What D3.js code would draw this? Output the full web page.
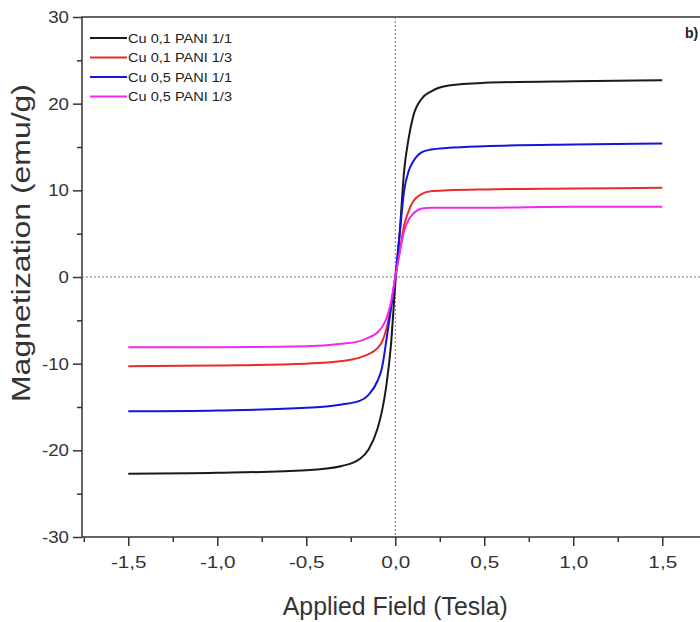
<!DOCTYPE html>
<html>
<head>
<meta charset="utf-8">
<script src="https://cdn.jsdelivr.net/npm/d3@7"></script>
<style>
  body { margin: 0; background: #fff; }
  svg { display: block; font-family: Arial, "Liberation Sans", sans-serif; }
</style>
</head>
<body>
<svg id="chart" width="700" height="622"></svg>
<script>
const field = [-1.5, -1.0, -0.5, -0.3, -0.2, -0.15, -0.1, -0.075, -0.05, -0.025, 0,
  0.025, 0.05, 0.075, 0.1, 0.15, 0.2, 0.3, 0.5, 1.0, 1.5];

const cu01Pani11 = [-22.7, -22.6, -22.3, -21.8, -21.0, -19.9, -17.5, -15.5, -12.5, -8.0, -0.8,
  5.2, 12.3, 16.0, 18.5, 20.6, 21.4, 22.1, 22.4, 22.6, 22.7];
const cu01Pani13 = [-10.3, -10.2, -10.0, -9.7, -9.3, -8.9, -8.2, -7.5, -6.0, -3.5, 0,
  3.0, 6.0, 7.6, 8.7, 9.6, 9.9, 10.0, 10.1, 10.2, 10.3];
const cu05Pani11 = [-15.5, -15.4, -15.1, -14.7, -14.3, -13.6, -12.0, -10.5, -7.3, -3.8, 0,
  5.0, 10.0, 12.2, 13.3, 14.4, 14.7, 14.9, 15.1, 15.3, 15.4];
const cu05Pani13 = [-8.1, -8.1, -8.0, -7.7, -7.4, -7.0, -6.4, -5.8, -4.8, -3.0, 0,
  2.8, 5.3, 6.6, 7.3, 7.9, 8.0, 8.0, 8.0, 8.1, 8.1];

const seriesNames = ["Cu 0,1 PANI 1/1", "Cu 0,1 PANI 1/3", "Cu 0,5 PANI 1/1", "Cu 0,5 PANI 1/3"];
const seriesValues = [cu01Pani11, cu01Pani13, cu05Pani11, cu05Pani13];
const seriesColors = ["#1a1a1a", "#e82c2c", "#1414e0", "#f028f0"];

const xTicks = [-1.5, -1.0, -0.5, 0, 0.5, 1.0, 1.5];
const yTicks = [-30, -20, -10, 0, 10, 20, 30];

const svg = d3.select("#chart");
const plotLeft = 82, plotTop = 17, plotBottom = 537;

const x = d3.scaleLinear().domain([-1.76, 1.76]).range([plotLeft, plotLeft + 3.52 * 178]);
const y = d3.scaleLinear().domain([-30, 30]).range([plotBottom, plotTop]);

const fmt = (d) => d3.format(".1f")(d).replace("−", "-").replace(".", ",");

// frame
svg.append("rect")
  .attr("x", x.range()[0]).attr("y", plotTop)
  .attr("width", x.range()[1] - x.range()[0]).attr("height", plotBottom - plotTop)
  .attr("fill", "none").attr("stroke", "#333").attr("stroke-width", 1.5);

// zero guides
svg.append("line")
  .attr("x1", x(0)).attr("x2", x(0)).attr("y1", plotTop).attr("y2", plotBottom)
  .attr("stroke", "#777").attr("stroke-dasharray", "2,2");
svg.append("line")
  .attr("x1", x.range()[0]).attr("x2", x.range()[1]).attr("y1", y(0)).attr("y2", y(0))
  .attr("stroke", "#777").attr("stroke-dasharray", "2,2");

// axes
const xAxis = d3.axisBottom(x).tickValues(xTicks).tickFormat(fmt).tickSize(9).tickPadding(10);
const xMinor = d3.axisBottom(x).tickValues(d3.range(-1.75, 1.76, 0.5)).tickFormat("").tickSize(5);
const yAxis = d3.axisLeft(y).tickValues(yTicks).tickFormat(d3.format("d")).tickSize(9).tickPadding(4);
const yMinor = d3.axisLeft(y).tickValues(d3.range(-25, 26, 10)).tickFormat("").tickSize(5);

const gx = svg.append("g").attr("transform", `translate(0,${plotBottom})`).call(xAxis);
const gxm = svg.append("g").attr("transform", `translate(0,${plotBottom})`).call(xMinor);
const gy = svg.append("g").attr("transform", `translate(${plotLeft},0)`).call(yAxis);
const gym = svg.append("g").attr("transform", `translate(${plotLeft},0)`).call(yMinor);

[gx, gxm, gy, gym].forEach((g) => {
  g.select(".domain").remove();
  g.selectAll("line").attr("stroke", "#333").attr("stroke-width", 1.5);
  g.selectAll("text").attr("font-size", 17).attr("fill", "#333")
    .text(function () { return d3.select(this).text().replace("−", "-"); });
});
// the original labels are drawn a little wider than plain Arial
gx.selectAll("text").attr("transform", "scale(1.22,1)");
gy.selectAll("text").attr("transform", "translate(-13,0) scale(1.1,1)")
  .attr("x", null).attr("text-anchor", "end");

// curves
const line = d3.line()
  .x((d, i) => x(field[i]))
  .y((d) => y(d))
  .curve(d3.curveMonotoneX);

seriesValues.forEach((vals, i) => {
  svg.append("path")
    .datum(vals)
    .attr("d", line)
    .attr("fill", "none")
    .attr("stroke", seriesColors[i])
    .attr("stroke-width", 2);
});

// legend
const legend = svg.append("g").attr("transform", "translate(90,38)");
seriesNames.forEach((name, i) => {
  const row = legend.append("g").attr("transform", `translate(0,${i * 19.5})`);
  row.append("line").attr("x1", 0).attr("x2", 37).attr("y1", 0).attr("y2", 0)
    .attr("stroke", seriesColors[i]).attr("stroke-width", 2);
  row.append("text").attr("x", 38).attr("y", 4.5).attr("font-size", 12.5)
    .attr("textLength", 104).attr("lengthAdjust", "spacingAndGlyphs")
    .attr("fill", "#222").text(name);
});

// panel tag
svg.append("text").attr("x", 685).attr("y", 38).attr("font-size", 14)
  .attr("font-weight", "bold").attr("fill", "#222").text("b)");

// axis titles
svg.append("text")
  .attr("x", x(0)).attr("y", 615)
  .attr("text-anchor", "middle").attr("font-size", 25).attr("fill", "#333")
  .attr("textLength", 225).attr("lengthAdjust", "spacingAndGlyphs")
  .text("Applied Field (Tesla)");
svg.append("text")
  .attr("transform", "translate(30,243) rotate(-90)")
  .attr("text-anchor", "middle").attr("font-size", 25).attr("fill", "#333")
  .attr("textLength", 318).attr("lengthAdjust", "spacingAndGlyphs")
  .text("Magnetization (emu/g)");
</script>
</body>
</html>
